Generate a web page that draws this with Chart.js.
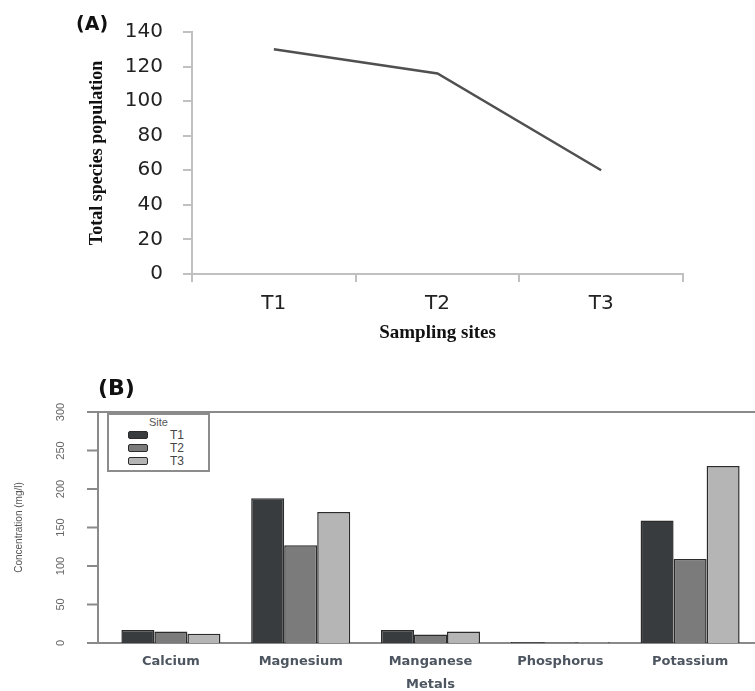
<!DOCTYPE html>
<html>
<head>
<meta charset="utf-8">
<script src="https://cdn.jsdelivr.net/npm/chart.js@4.4.1/dist/chart.umd.min.js"></script>
<style>
  html, body { margin: 0; padding: 0; background: #fff; overflow: hidden; }
  body { width: 755px; height: 691px; position: relative; }
  .panel { position: absolute; left: 0; width: 755px; height: 350px; }
  #panelA { top: 0; }
  #panelB { top: 350px; }
  .tag { position: absolute; font-family: 'DejaVu Sans', sans-serif; font-weight: bold; color: #111; line-height: 1; }
  #legend {
    position: absolute; left: 107px; top: 413px; width: 103px; height: 59px;
    box-sizing: border-box; border: 2px solid #8c8c8c; background: #fff;
    font-family: 'Liberation Sans', Arial, sans-serif; color: #555;
  }
  #legend .title { text-align: center; font-size: 11px; line-height: 12px; margin-top: 1px; }
  #legend .row { display: flex; align-items: center; height: 13px; }
  #legend .swatch { box-sizing: border-box; width: 20px; height: 8px; margin-left: 19px; border: 1px solid #2b2b2b; border-radius: 2px; }
  #legend .label { margin-left: 22px; font-size: 12px; line-height: 12px; color: #444; }
</style>
</head>
<body>
<div class="panel" id="panelA"><canvas id="lineChart" width="755" height="350"></canvas></div>
<div class="panel" id="panelB"><canvas id="barChart" width="755" height="350"></canvas></div>
<div class="tag" style="left:76px; top:14px; font-size:19px;">(A)</div>
<div class="tag" style="left:98px; top:377px; font-size:22px;">(B)</div>
<div id="legend"></div>

<script>
// (A) total species population per sampling site
const sites = ['T1', 'T2', 'T3'];
const speciesTotals = [130, 116, 60];
const speciesTicks = [0, 20, 40, 60, 80, 100, 120, 140];

// (B) metal concentrations (mg/l) per site
const metals = ['Calcium', 'Magnesium', 'Manganese', 'Phosphorus', 'Potassium'];
const siteT1 = [17, 188, 17, 1.2, 159];
const siteT2 = [15, 127, 11, 1.0, 109];
const siteT3 = [12, 170, 15, 1.1, 230];
const concTicks = [0, 50, 100, 150, 200, 250, 300];
const siteColors = ['#383c3e', '#7b7b7b', '#b5b5b5'];

(function() {
    new Chart(document.getElementById('lineChart'), {
        type: 'line',
        data: {
            labels: sites,
            datasets: [{
                label: 'Total species population',
                data: speciesTotals,
                borderColor: '#505050',
                borderWidth: 2.5,
                pointRadius: 0,
                tension: 0,
                fill: false
            }]
        },
        options: {
            responsive: false,
            animation: false,
            layout: { padding: { top: 21, right: 72, left: 0, bottom: 0 } },
            plugins: { legend: { display: false }, tooltip: { enabled: false } },
            scales: {
                x: {
                    offset: true,
                    grid: { drawOnChartArea: false, offset: true, tickLength: 8, color: '#c0c0c0', lineWidth: 2 },
                    border: { color: '#c0c0c0', width: 2 },
                    ticks: { color: '#222', font: { family: 'DejaVu Sans', size: 20 }, padding: 10 },
                    title: {
                        display: true,
                        text: 'Sampling sites',
                        color: '#111',
                        font: { family: 'Liberation Serif', size: 19, weight: 'bold' },
                        padding: { top: 0, bottom: 6 }
                    },
                    afterFit: s => { s.height = 76; }
                },
                y: {
                    min: speciesTicks[0],
                    max: speciesTicks[speciesTicks.length - 1],
                    afterBuildTicks: s => { s.ticks = speciesTicks.map(v => ({ value: v })); },
                    grid: { drawOnChartArea: false, tickLength: 9, color: '#c0c0c0', lineWidth: 2 },
                    border: { color: '#c0c0c0', width: 2 },
                    ticks: { color: '#222', font: { family: 'DejaVu Sans', size: 20 }, padding: 20 },
                    title: {
                        display: true,
                        text: 'Total species population',
                        color: '#111',
                        font: { family: 'Liberation Serif', size: 18, weight: 'bold' },
                        padding: { top: 87, bottom: 0 }
                    },
                    afterFit: s => { s.width = 192; }
                }
            }
        }
    });

    // R style frame: axis line sits a little left of the first bar group
    const frame = {
        id: 'frame',
        beforeDatasetsDraw(chart) {
            const { ctx, chartArea: a, scales: { y } } = chart;
            const axisX = a.left - 8;
            const top = y.getPixelForValue(concTicks[concTicks.length - 1]);
            const bottom = y.getPixelForValue(0);
            ctx.save();
            ctx.strokeStyle = '#8a8a8a';
            ctx.lineWidth = 2;
            ctx.beginPath();
            ctx.moveTo(axisX, top);
            ctx.lineTo(axisX, bottom);
            concTicks.forEach(v => {
                const py = y.getPixelForValue(v);
                ctx.moveTo(axisX - 11, py);
                ctx.lineTo(axisX, py);
            });
            ctx.moveTo(axisX, top);
            ctx.lineTo(a.right, top);
            ctx.moveTo(axisX, bottom);
            ctx.lineTo(a.right, bottom);
            ctx.stroke();
            ctx.restore();
        }
    };

    const seriesValues = [siteT1, siteT2, siteT3];

    new Chart(document.getElementById('barChart'), {
        type: 'bar',
        data: {
            labels: metals,
            datasets: sites.map((name, i) => ({
                label: name,
                data: seriesValues[i],
                backgroundColor: siteColors[i],
                borderColor: '#2b2b2b',
                borderWidth: 1.5,
                categoryPercentage: 0.763,
                barPercentage: 1.0
            }))
        },
        options: {
            responsive: false,
            animation: false,
            layout: { padding: { top: 62, right: 0, left: 0, bottom: 0 } },
            plugins: { legend: { display: false }, tooltip: { enabled: false } },
            scales: {
                x: {
                    grid: { display: false, drawTicks: false },
                    border: { display: false },
                    ticks: { color: '#4d5560', font: { family: 'DejaVu Sans', size: 13, weight: 'bold' }, padding: 11 },
                    title: {
                        display: true,
                        text: 'Metals',
                        color: '#4d5560',
                        font: { family: 'DejaVu Sans', size: 13, weight: 'bold' },
                        padding: { top: 0, bottom: 8 }
                    },
                    afterFit: s => { s.height = 57; }
                },
                y: {
                    min: concTicks[0],
                    max: concTicks[concTicks.length - 1],
                    afterBuildTicks: s => { s.ticks = concTicks.map(v => ({ value: v })); },
                    grid: { display: false, drawTicks: false },
                    border: { display: false },
                    ticks: {
                        color: '#666',
                        font: { family: 'Liberation Sans', size: 11 },
                        minRotation: 90,
                        maxRotation: 90,
                        crossAlign: 'center',
                        padding: 36
                    },
                    title: {
                        display: true,
                        text: 'Concentration (mg/l)',
                        color: '#555',
                        font: { family: 'Liberation Sans', size: 10 },
                        padding: { top: 13, bottom: 0 }
                    },
                    afterFit: s => { s.width = 106; }
                }
            }
        },
        plugins: [frame]
    });

    // legend box "Site"
    const legend = document.getElementById('legend');
    legend.innerHTML = '<div class="title">Site</div>' + sites.map((name, i) =>
        '<div class="row"><span class="swatch" style="background:' + siteColors[i] + '"></span>' +
        '<span class="label">' + name + '</span></div>').join('');
})();
</script>
</body>
</html>
